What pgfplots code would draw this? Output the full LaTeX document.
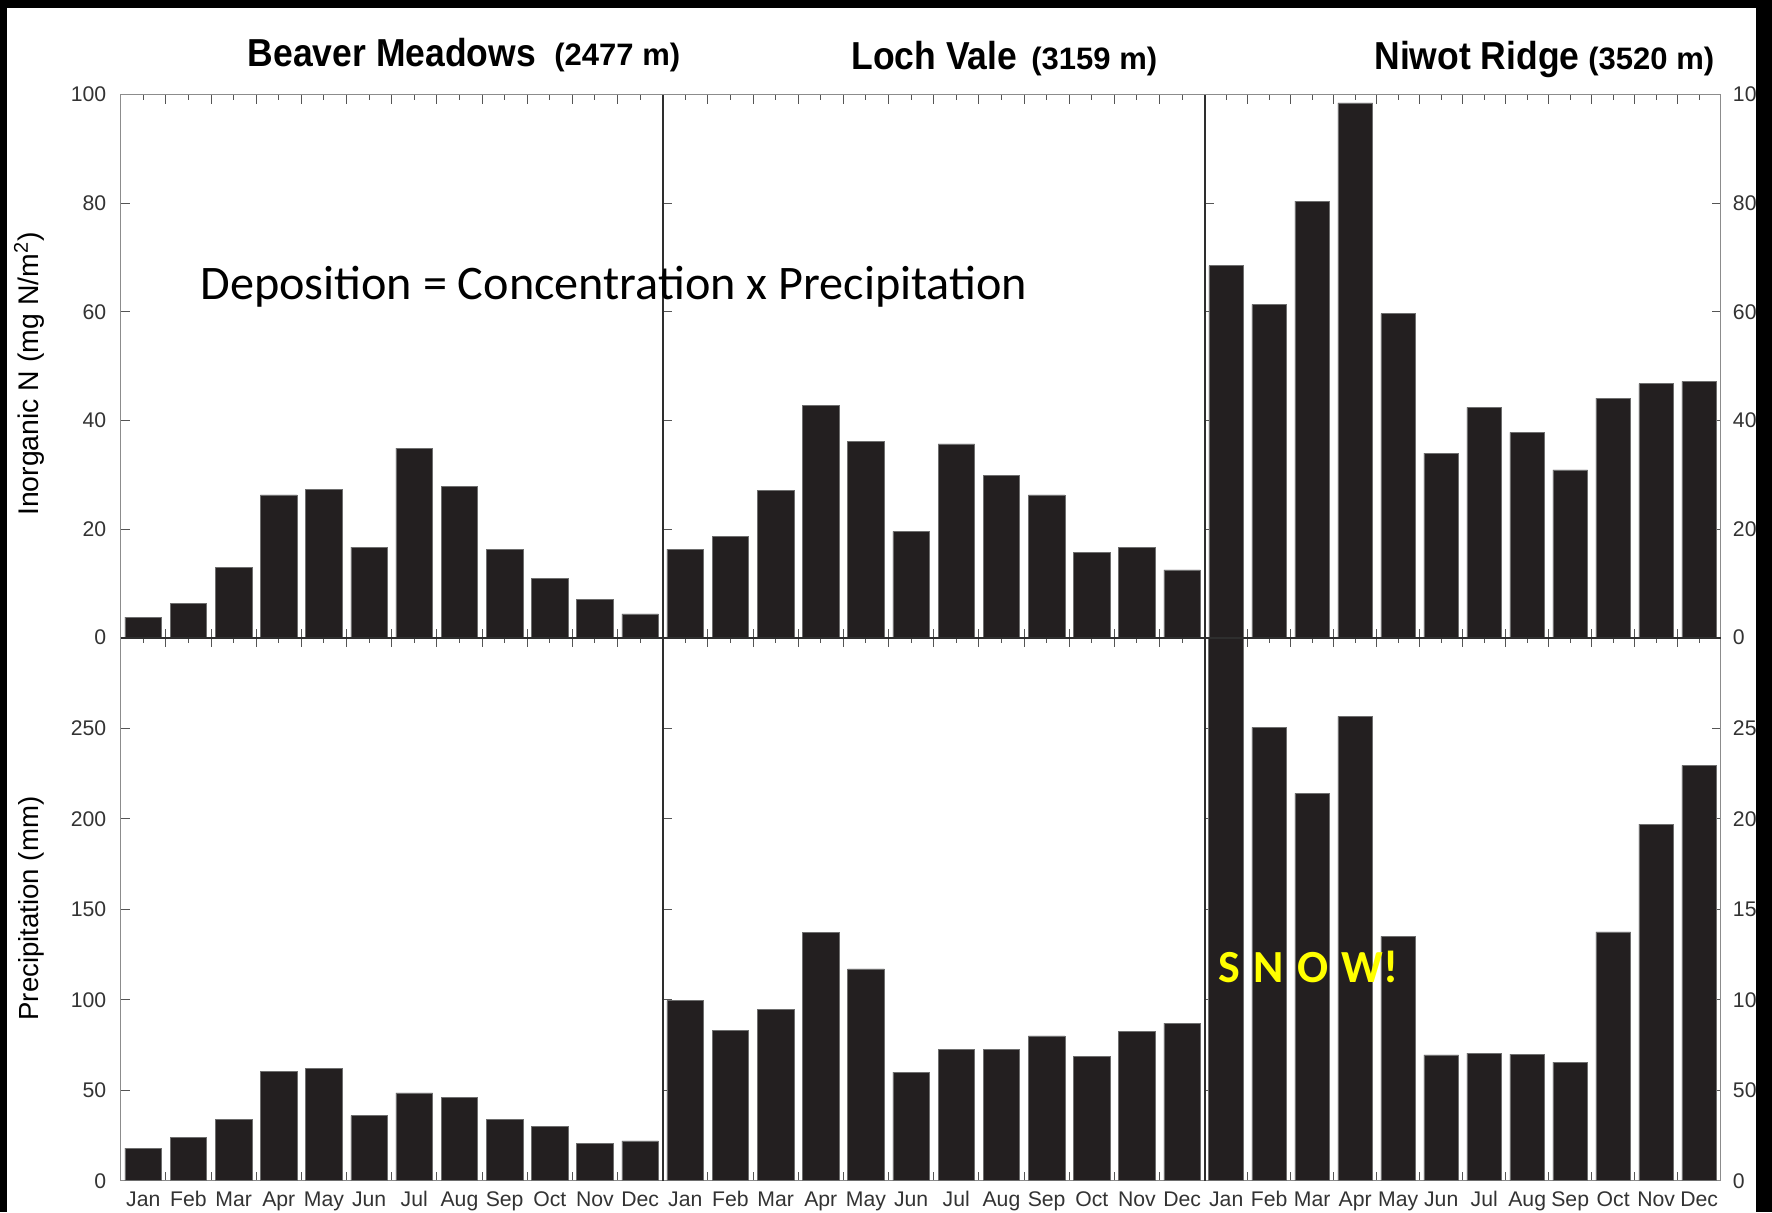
\documentclass[border=0pt]{standalone}
\usepackage{pgfplots}
\pgfplotsset{compat=1.18}
\usepackage{pgfplotstable}
\usepackage{fontspec}
\setmainfont{Liberation Sans}
\newfontface\titlefont[FakeStretch=0.91]{Liberation Sans Bold}
\newfontface\altfont[FakeStretch=1.0]{Liberation Sans Bold}
\newfontfamily\calibri{Carlito}

\definecolor{barfill}{HTML}{231F20}
\definecolor{baredge}{HTML}{6E6E6E}
\definecolor{linegray}{HTML}{8C8C8C}
\definecolor{tickgray}{HTML}{555555}
\definecolor{labgray}{HTML}{333333}
\definecolor{divider}{HTML}{2E2E2E}
\definecolor{snowyellow}{HTML}{FFFF00}

% monthly inorganic N deposition (mg N/m^2) and precipitation (mm)
\pgfplotstableread{
m  N     P
0  3.8   18
1  6.3   24
2  12.9  34
3  26.3  60.5
4  27.3  62
5  16.7  36
6  34.9  48.5
7  27.8  46
8  16.3  34
9  10.9  30
10 7.1   20.5
11 4.4   22
}\beaver

\pgfplotstableread{
m  N     P
0  16.3  99.5
1  18.6  83
2  27.1  94.5
3  42.8  137
4  36.1  117
5  19.6  60
6  35.7  72.5
7  29.9  72.5
8  26.3  80
9  15.7  68.5
10 16.7  82.5
11 12.5  87
}\loch

\pgfplotstableread{
m  N     P
0  68.5  320
1  61.4  250.5
2  80.4  214
3  98.5  256.5
4  59.7  135
5  34.0  69.5
6  42.4  70.5
7  37.8  70
8  30.9  65.5
9  44.1  137.5
10 46.8  197
11 47.2  229.5
}\niwot

\pgfplotsset{
  panel/.style={
    scale only axis,
    height=271.5pt,
    xmin=-0.5, xmax=11.5, ymin=0,
    xtick={-0.5,0.5,...,11.5},
    minor xtick={0,...,11},
    xtick pos=both,
    tick align=inside,
    major tick length=4.5pt, minor tick length=2.5pt,
    axis line style={linegray, line width=0.75pt},
    tick style={tickgray, line width=0.5pt},
    /pgf/number format/assume math mode=true,
    tick label style={font=\fontsize{10.6}{12}\selectfont, text=labgray},
    xticklabel style={text height=7.8pt, text depth=0pt, yshift=-1.6pt},
  },
  wide/.style={width=271pt, xticklabel style={xshift=11.29pt}},
  narrow/.style={width=258pt, xticklabel style={xshift=10.75pt}},
  deprow/.style={ymax=100, ytick={0,20,...,100}, xticklabels={}},
  precrow/.style={ymax=300, ytick={0,50,...,250},
    xticklabels={Jan,Feb,Mar,Apr,May,Jun,Jul,Aug,Sep,Oct,Nov,Dec,{}}},
  leftside/.style={ytick pos=left, yticklabel style={xshift=-3.7pt}},
  middle/.style={ytick pos=left, yticklabels={}},
  rightside/.style={ytick pos=both, yticklabel pos=right, yticklabel style={xshift=2.6pt}},
  bars/.style={ybar, bar width=0.81, bar shift=0pt, fill=barfill, draw=baredge, line width=0.3pt},
}

\begin{document}
\begin{tikzpicture}
\useasboundingbox (0,0) rectangle (886pt,606pt);
\fill[black] (0,0) rectangle (886pt,606pt);
\fill[white] (3.25pt,0) rectangle (878pt,602pt);

% Beaver Meadows
\begin{axis}[panel, wide, deprow, leftside, at={(60.35pt,287.15pt)}, anchor=south west]
  \addplot[bars] table[x=m, y=N] {\beaver};
\end{axis}
\begin{axis}[panel, wide, precrow, leftside, at={(60.35pt,15.65pt)}, anchor=south west]
  \addplot[bars] table[x=m, y=P] {\beaver};
\end{axis}

% Loch Vale
\begin{axis}[panel, wide, deprow, middle, at={(331.35pt,287.15pt)}, anchor=south west]
  \addplot[bars] table[x=m, y=N] {\loch};
\end{axis}
\begin{axis}[panel, wide, precrow, middle, at={(331.35pt,15.65pt)}, anchor=south west]
  \addplot[bars] table[x=m, y=P] {\loch};
\end{axis}

% Niwot Ridge
\begin{axis}[panel, narrow, deprow, rightside, at={(602.35pt,287.15pt)}, anchor=south west]
  \addplot[bars] table[x=m, y=N] {\niwot};
\end{axis}
\begin{axis}[panel, narrow, precrow, rightside, at={(602.35pt,15.65pt)}, anchor=south west]
  \addplot[bars] table[x=m, y=P] {\niwot};
\end{axis}

% panel dividers
\draw[divider, line width=0.9pt] (331.35pt,15.65pt) -- (331.35pt,558.65pt);
\draw[divider, line width=0.9pt] (602.35pt,15.65pt) -- (602.35pt,558.65pt);
\draw[divider, line width=0.8pt] (60.35pt,287.15pt) -- (860.35pt,287.15pt);

% site titles
\node[anchor=base west, inner sep=0pt] at (123.75pt,572.65pt) {\titlefont\fontsize{19.5}{22}\selectfont Beaver Meadows};
\node[anchor=base west, inner sep=0pt] at (277pt,573.25pt) {\altfont\fontsize{15.5}{18}\selectfont (2477 m)};
\node[anchor=base west, inner sep=0pt] at (425.5pt,571pt) {\titlefont\fontsize{19.5}{22}\selectfont Loch Vale};
\node[anchor=base west, inner sep=0pt] at (515.5pt,571pt) {\altfont\fontsize{15.5}{18}\selectfont (3159 m)};
\node[anchor=base west, inner sep=0pt] at (687pt,571pt) {\titlefont\fontsize{19.5}{22}\selectfont Niwot Ridge};
\node[anchor=base west, inner sep=0pt] at (794pt,571pt) {\altfont\fontsize{15.5}{18}\selectfont (3520 m)};

% axis titles
\node[rotate=90, anchor=center, inner sep=0pt] at (14.5pt,419pt) {\fontsize{14.2}{16}\selectfont Inorganic N (mg N/m\textsuperscript{2})};
\node[rotate=90, anchor=center, inner sep=0pt] at (15.5pt,151.7pt) {\fontsize{13.8}{16}\selectfont Precipitation (mm)};

% annotations
\node[anchor=base west, inner sep=0pt] at (100pt,456pt) {\calibri\fontsize{24.1}{28}\selectfont Deposition = Concentration x Precipitation};
\node[anchor=base west, inner sep=0pt, text=snowyellow] at (609pt,114.65pt) {\calibri\bfseries\fontsize{23}{26}\selectfont S\hspace{0.29em}N\hspace{0.29em}O\hspace{0.29em}W!};

% outer frame bands
\fill[black] (878pt,0) rectangle (886pt,606pt);
\fill[black] (0,602pt) rectangle (886pt,606pt);
\fill[black] (0,0) rectangle (3.25pt,606pt);
\end{tikzpicture}
\end{document}
